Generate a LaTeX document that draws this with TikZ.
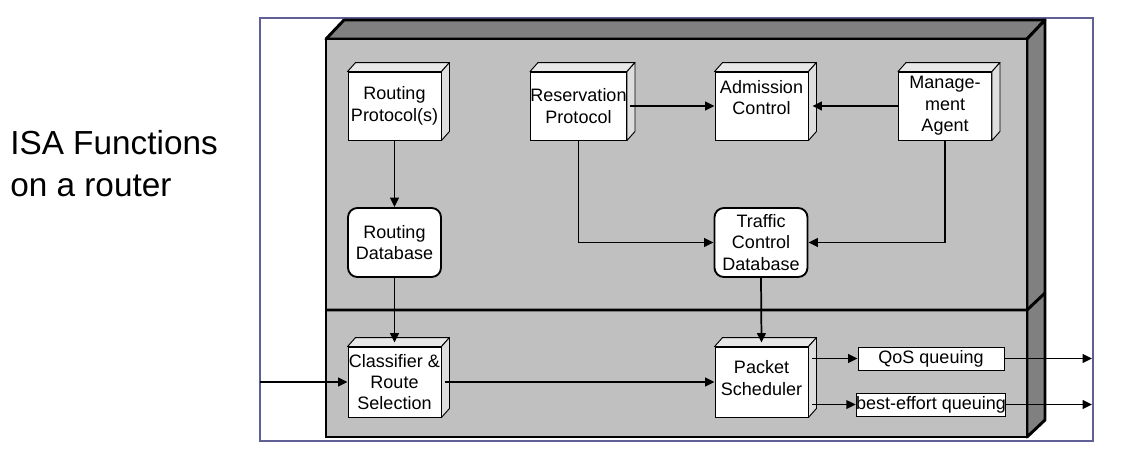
\documentclass[tikz,border=0pt]{standalone}
\usepackage{fontspec}
\setmainfont{Liberation Sans}
\usetikzlibrary{arrows.meta}
\definecolor{framecol}{RGB}{96,96,150}
\definecolor{frontgray}{RGB}{192,192,192}
\definecolor{darkgray2}{RGB}{128,128,128}
\definecolor{cubetop}{RGB}{232,232,232}
\definecolor{cubeside}{RGB}{222,222,222}
\begin{document}
\begin{tikzpicture}[x=0.75pt,y=-0.75pt,
  cubebox/.style={draw=black,line width=0.7pt,fill=white,minimum width=69.75pt,minimum height=51pt,
    inner sep=0pt,align=center,font=\fontsize{13.5}{16}\selectfont},
  dbbox/.style={draw=black,line width=1.4pt,fill=white,rounded corners=7pt,minimum width=69.75pt,
    minimum height=51.75pt,inner sep=0pt,align=center,font=\fontsize{13.5}{16}\selectfont},
  qbox/.style={draw=black,line width=0.7pt,fill=white,minimum width=109.5pt,minimum height=17.25pt,
    inner sep=0pt,align=center,font=\fontsize{13.5}{15}\selectfont},
  conn/.style={line width=1.3pt,-{Triangle[length=7pt,width=6.5pt]}},
  face/.style={draw=black,line width=0.7pt,line join=round}
]
\useasboundingbox (0,0) rectangle (1134,468);
% outer frame
\draw[framecol,line width=0.8pt] (260,18) rectangle (1093,441);
% title
\node[anchor=west,align=left,font=\fontsize{25}{31.5}\selectfont,inner sep=0pt] (title) at (10,164) {ISA Functions\\on a router};
% main 3D box
\path[fill=darkgray2,draw=black,line width=2.2pt,line join=round] (326,39) -- (344,20) -- (1045,20) -- (1027,39) -- cycle;
\path[fill=darkgray2,draw=black,line width=2.2pt,line join=round] (1027,39) -- (1045,20) -- (1045,420) -- (1027,437) -- cycle;
\path[fill=frontgray,draw=black,line width=2.2pt] (326,39) rectangle (1027,437);
\draw[black,line width=2.2pt] (326,310) -- (1027,310) -- (1045,293);
% nodes
\node[cubebox] (rp) at (394.5,106) {Routing\\Protocol(s)};
\node[cubebox] (resv) at (578.5,106) {Reservation\\Protocol};
\node[cubebox] (adm) at (761.5,106) {Admission\\Control\\[-3pt]\mbox{}};
\node[cubebox] (mgmt) at (945,106) {Manage-\\ment\\Agent};
\node[dbbox] (rdb) at (394.5,242.5) {Routing\\Database};
\node[dbbox] (tcd) at (761,242.5) {Traffic\\Control\\Database};
\node[cubebox,minimum height=52.5pt] (cls) at (394.5,382) {Classifier \&\\Route\\Selection};
\node[cubebox,minimum height=52.5pt] (ps) at (761.5,382) {Packet\\Scheduler\\[-10pt]\mbox{}};
\node[qbox] (qos) at (931,358.5) {QoS queuing};
\node[qbox] (be) at (931,404.5) {best-effort queuing};
% 3D faces of the small boxes
\foreach \n in {rp,resv,adm,mgmt,cls,ps}{
  \draw[face,fill=cubetop] (\n.north west) -- ++(8,-9) -- ([shift={(8,-9)}]\n.north east) -- (\n.north east) -- cycle;
  \draw[face,fill=cubeside] (\n.north east) -- ++(8,-9) -- ([shift={(8,-9)}]\n.south east) -- (\n.south east) -- cycle;
}
% coordinates for free ends
\coordinate (in) at (260,382);
\coordinate (o1) at (1092,358.5);
\coordinate (o2) at (1092,404.5);
% connectors
\draw[conn] (rp.south) -- (rdb.north);
\draw[conn] (rdb.south) -- ([yshift=3pt]cls.north);
\draw[conn] ([xshift=2pt]resv.east) -- (adm.west);
\draw[conn] (mgmt.west) -- ([xshift=3pt]adm.east);
\draw[conn] (resv.south) |- (tcd.west);
\draw[conn] (mgmt.south) |- (tcd.east);
\draw[conn] (tcd.south) -- ([yshift=3pt]ps.north);
\draw[conn] (in) -- (cls.west);
\draw[conn] ([xshift=3pt]cls.east) -- (ps.west);
\draw[conn] ([xshift=3pt]ps.east |- qos.west) -- (qos.west);
\draw[conn] ([xshift=3pt]ps.east |- be.west) -- (be.west);
\draw[conn] (qos.east) -- (o1);
\draw[conn] (be.east) -- (o2);
\end{tikzpicture}
\end{document}
